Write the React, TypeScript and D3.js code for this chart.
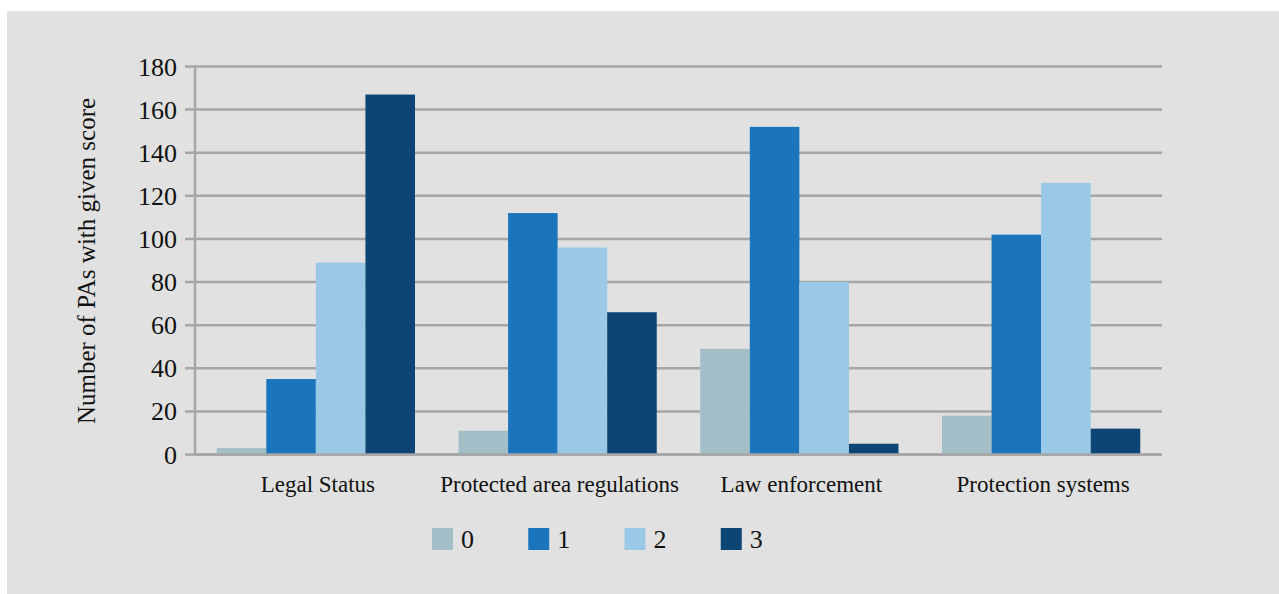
import React from "react";
import * as d3 from "d3";

const categories = ["Legal Status", "Protected area regulations", "Law enforcement", "Protection systems"];
const seriesKeys = ["0", "1", "2", "3"];
const score0 = [3, 11, 49, 18];
const score1 = [35, 112, 152, 102];
const score2 = [89, 96, 80, 126];
const score3 = [167, 66, 5, 12];
const yTicks = [0, 20, 40, 60, 80, 100, 120, 140, 160, 180];
const colors = ["#a3bec7", "#1b75bc", "#9ac8e7", "#0d4575"];

const seriesValues = [score0, score1, score2, score3];

const W = 1279;
const H = 594;
const FONT = "'Liberation Serif', 'DejaVu Serif', serif";

export default function App() {
  const left = 195;
  const right = 1162;
  const top = 66.5;
  const bottom = 454.5;

  const x0 = d3.scaleBand<string>().domain(categories).range([left, right]).paddingInner(0.18).paddingOuter(0.09);
  const x1 = d3.scaleBand<string>().domain(seriesKeys).range([0, x0.bandwidth()]).padding(0);
  const y = d3.scaleLinear().domain([0, 180]).range([bottom, top]);

  const legendX = d3.scaleBand<string>().domain(seriesKeys).range([432, 817]);

  return (
    <svg width={W} height={H} style={{ position: "absolute", left: 0, top: 0, background: "#fff" }}>
      <rect x={7} y={11} width={W - 7} height={H - 11} fill="#e0e1e0" />
      {yTicks.map((t) => (
        <g key={t}>
          <line x1={185} x2={right} y1={y(t)} y2={y(t)} stroke="#a6a6a6" strokeWidth={2.5} />
          <text x={177} y={y(t)} dy="0.35em" textAnchor="end" fontFamily={FONT} fontSize={26} fill="#111">
            {t}
          </text>
        </g>
      ))}
      <line x1={left} x2={left} y1={top - 1} y2={bottom + 1} stroke="#a6a6a6" strokeWidth={2.5} />
      {categories.map((c, i) => (
        <g key={c}>
          {seriesKeys.map((k, j) => (
            <rect
              key={k}
              x={(x0(c) as number) + (x1(k) as number)}
              y={y(seriesValues[j][i])}
              width={x1.bandwidth()}
              height={bottom - y(seriesValues[j][i])}
              fill={colors[j]}
            />
          ))}
          <text
            x={(x0(c) as number) + x0.bandwidth() / 2 + 2}
            y={492}
            textAnchor="middle"
            fontFamily={FONT}
            fontSize={23}
            fill="#111"
          >
            {c}
          </text>
        </g>
      ))}
      <line x1={left} x2={right} y1={bottom} y2={bottom} stroke="#a6a6a6" strokeWidth={2.5} />
      <text
        transform={`translate(95, 261) rotate(-90)`}
        textAnchor="middle"
        fontFamily={FONT}
        fontSize={25}
        fill="#111"
      >
        Number of PAs with given score
      </text>
      {seriesKeys.map((k, j) => (
        <g key={k} transform={`translate(${legendX(k)}, 528)`}>
          <rect width={21} height={22} fill={colors[j]} />
          <text x={29} y={11} dy="0.35em" fontFamily={FONT} fontSize={26} fill="#111">
            {k}
          </text>
        </g>
      ))}
    </svg>
  );
}
